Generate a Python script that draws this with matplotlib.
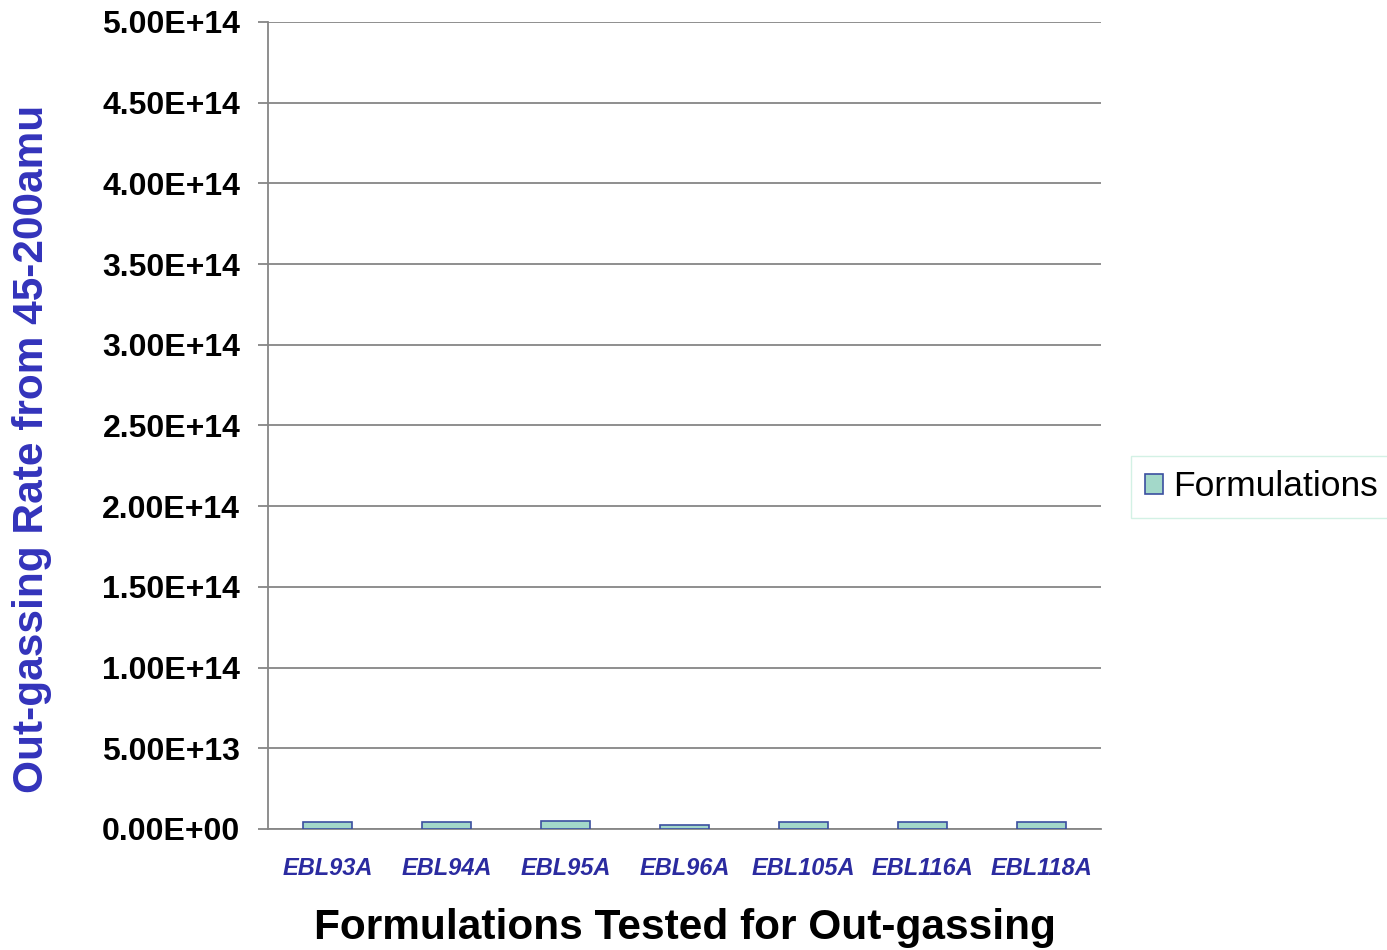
import matplotlib
matplotlib.use("Agg")
import matplotlib.pyplot as plt
from matplotlib.ticker import FuncFormatter, MultipleLocator
from matplotlib.patches import Patch

formulations = ["EBL93A", "EBL94A", "EBL95A", "EBL96A", "EBL105A", "EBL116A", "EBL118A"]
outgassing_rate = [4.3e12, 4.3e12, 4.8e12, 2.5e12, 4.6e12, 4.6e12, 4.2e12]

plt.rcParams["font.family"] = ["Liberation Sans", "DejaVu Sans"]

fig = plt.figure(figsize=(13.87, 9.5), dpi=100)
ax = fig.add_axes([268 / 1387, 121 / 950, (1101 - 268) / 1387, (829 - 22) / 950])

x = range(len(formulations))
ax.bar(x, outgassing_rate, width=0.42, color="#a3d8c9", edgecolor="#3b4fa0",
       linewidth=1.2, zorder=3)

ax.set_ylim(0, 5e14)
ax.set_xlim(-0.5, len(formulations) - 0.5)
ax.yaxis.set_major_locator(MultipleLocator(5e13))
ax.yaxis.set_major_formatter(FuncFormatter(lambda v, _: f"{v:.2E}"))
ax.grid(axis="y", color="#868686", linewidth=1.3, zorder=0)

for side in ("top", "right"):
    ax.spines[side].set_visible(False)
for side in ("left", "bottom"):
    ax.spines[side].set_color("#868686")
    ax.spines[side].set_linewidth(1.3)

ax.tick_params(axis="y", length=7, width=1.3, color="#868686", pad=13,
               labelsize=23)
for lbl in ax.get_yticklabels():
    lbl.set_fontweight("bold")

ax.set_xticks(list(x))
ax.set_xticklabels(formulations, fontsize=17, fontweight="bold",
                   fontstyle="italic", color="#2b2ba0")
ax.tick_params(axis="x", length=0, pad=20)

ax.set_xlabel("Formulations Tested for Out-gassing", fontsize=30.5,
              fontweight="bold", labelpad=20)
fig.text(32 / 1387, 1 - 449 / 950, "Out-gassing Rate from 45-200amu",
         fontsize=30.5, fontweight="bold", color="#3333bb",
         rotation=90, ha="center", va="center")

handle = Patch(facecolor="#a3d8c9", edgecolor="#3b4fa0", linewidth=1.2)
fig.legend([handle], ["Formulations"], loc="center left",
           bbox_to_anchor=(1131 / 1387, 1 - 487 / 950), fontsize=25.5,
           frameon=True, fancybox=False, edgecolor="#c8eedf",
           handlelength=0.5, handleheight=0.5, handletextpad=0.3,
           borderpad=0.4, borderaxespad=0)

fig.savefig("out.png", dpi=100)
